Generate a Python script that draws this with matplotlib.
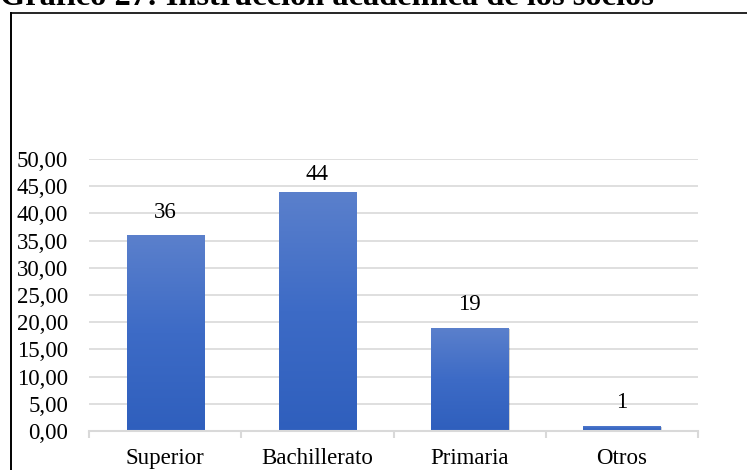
import matplotlib
matplotlib.use('Agg')
import matplotlib.pyplot as plt
import numpy as np
from matplotlib.colors import LinearSegmentedColormap
import matplotlib.transforms as mtransforms
from matplotlib.patches import Rectangle
from matplotlib.lines import Line2D

title = 'Gráfico 27: Instrucción académica de los socios'
categories = ['Superior', 'Bachillerato', 'Primaria', 'Otros']
values = [36, 44, 19, 1]
value_labels = ['36', '44', '19', '1']
yticks = [0, 5, 10, 15, 20, 25, 30, 35, 40, 45, 50]
ytick_labels = ['0,00', '5,00', '10,00', '15,00', '20,00', '25,00', '30,00',
                '35,00', '40,00', '45,00', '50,00']

plt.rcParams['font.family'] = ['Liberation Serif', 'DejaVu Serif']

W, H = 747, 470
FS = 16.5
fig = plt.figure(figsize=(W / 100, H / 100), dpi=100)
ax = fig.add_axes([89 / W, 1 - 431 / H, (698 - 89) / W, (431 - 159) / H])

x = np.arange(len(categories))
bars = ax.bar(x, values, width=0.506, color='none', edgecolor='none', zorder=3)

cmap = LinearSegmentedColormap.from_list('g', ['#2F5FBD', '#3D6BC6', '#5B80CC'])
grad = np.linspace(0, 1, 256).reshape(-1, 1)
shadow_tr = mtransforms.offset_copy(ax.transData, fig=fig, x=1.5, y=-1.5, units='dots')
for b in bars:
    x0, y0 = b.get_x(), b.get_y()
    w, h = b.get_width(), b.get_height()
    sh = Rectangle((x0, y0), w, h, transform=shadow_tr, facecolor='#000000',
                   alpha=0.18, edgecolor='none', zorder=2.5)
    ax.add_patch(sh)
    im = ax.imshow(grad, extent=[x0, x0 + w, y0, y0 + h], origin='lower',
                   cmap=cmap, aspect='auto', zorder=3, interpolation='bilinear')
    im.set_clip_path(b)

ymax = 50
for xi, v, lab in zip(x, values, value_labels):
    # label sits above the bar, kept inside the plot area near the top
    off = 23 if v < 0.8 * ymax else 17
    ax.annotate(lab, (xi, v), xytext=(0, off), textcoords='offset pixels',
                ha='center', va='center', fontsize=FS, color='#000000',
                annotation_clip=False)

ax.set_xlim(-0.5, len(categories) - 0.5)
ax.set_ylim(0, ymax)
ax.set_yticks(yticks)
ax.set_yticklabels(ytick_labels, fontsize=FS)
ax.set_xticks(x)
ax.set_xticklabels(categories, fontsize=FS)
ax.tick_params(axis='y', length=0, pad=15)
ax.tick_params(axis='x', length=0, pad=12)
# boundary ticks
ax.set_xticks(np.arange(-0.5, len(categories), 1.0), minor=True)
ax.tick_params(axis='x', which='minor', length=5, width=1.5, color='#d9d9d9')

ax.grid(axis='y', color='#d9d9d9', linewidth=1.2, zorder=0)
ax.set_axisbelow(True)
for s in ['top', 'right', 'left']:
    ax.spines[s].set_visible(False)
ax.spines['bottom'].set_color('#d9d9d9')
ax.spines['bottom'].set_linewidth(1.5)
ax.spines['bottom'].set_zorder(4)

# outer frame (top and left visible)
fy = 1 - 12.5 / H
fx = 10.5 / W
fig.add_artist(Line2D([fx, 1.01], [fy, fy], transform=fig.transFigure,
                      color='black', linewidth=1.2))
fig.add_artist(Line2D([fx, fx], [-0.01, fy], transform=fig.transFigure,
                      color='black', linewidth=1.4))

fig.text(0.0, 1 - 5 / H, title, fontsize=23.3, fontweight='bold',
         ha='left', va='baseline')

fig.savefig('out.png', dpi=100)
